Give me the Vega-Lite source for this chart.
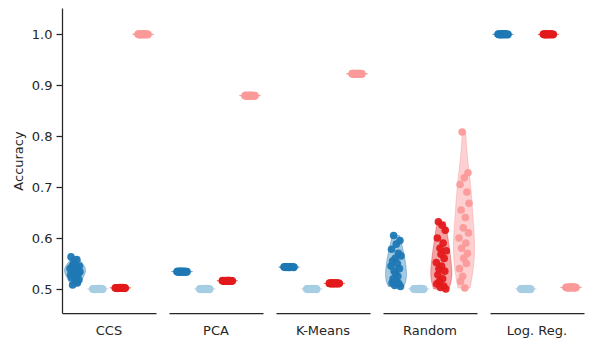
{
  "$schema": "https://vega.github.io/schema/vega-lite/v6.json",
  "padding": {"left": 12, "top": 8, "right": 5, "bottom": 5},
  "datasets": {
    "runs": [
      {"m":"CCS","h":"h1","r":0,"v":0.540},{"m":"CCS","h":"h1","r":1,"v":0.528},{"m":"CCS","h":"h1","r":2,"v":0.563},{"m":"CCS","h":"h1","r":3,"v":0.522},{"m":"CCS","h":"h1","r":4,"v":0.545},{"m":"CCS","h":"h1","r":5,"v":0.508},{"m":"CCS","h":"h1","r":6,"v":0.536},{"m":"CCS","h":"h1","r":7,"v":0.552},{"m":"CCS","h":"h1","r":8,"v":0.532},{"m":"CCS","h":"h1","r":9,"v":0.548},{"m":"CCS","h":"h1","r":10,"v":0.515},{"m":"CCS","h":"h1","r":11,"v":0.538},{"m":"CCS","h":"h1","r":12,"v":0.526},{"m":"CCS","h":"h1","r":13,"v":0.558},{"m":"CCS","h":"h1","r":14,"v":0.512},{"m":"CCS","h":"h1","r":15,"v":0.542},{"m":"CCS","h":"h1","r":16,"v":0.530},{"m":"CCS","h":"h1","r":17,"v":0.518},{"m":"CCS","h":"h1","r":18,"v":0.545},{"m":"CCS","h":"h1","r":19,"v":0.534},
      {"m":"CCS","h":"h2","r":0,"v":0.5000},{"m":"CCS","h":"h2","r":1,"v":0.5006},{"m":"CCS","h":"h2","r":2,"v":0.4996},{"m":"CCS","h":"h2","r":3,"v":0.5003},{"m":"CCS","h":"h2","r":4,"v":0.4993},{"m":"CCS","h":"h2","r":5,"v":0.5001},{"m":"CCS","h":"h2","r":6,"v":0.5005},{"m":"CCS","h":"h2","r":7,"v":0.4998},{"m":"CCS","h":"h2","r":8,"v":0.4995},{"m":"CCS","h":"h2","r":9,"v":0.5007},{"m":"CCS","h":"h2","r":10,"v":0.5002},{"m":"CCS","h":"h2","r":11,"v":0.4994},{"m":"CCS","h":"h2","r":12,"v":0.5004},{"m":"CCS","h":"h2","r":13,"v":0.4999},{"m":"CCS","h":"h2","r":14,"v":0.5007},{"m":"CCS","h":"h2","r":15,"v":0.4997},{"m":"CCS","h":"h2","r":16,"v":0.5000},{"m":"CCS","h":"h2","r":17,"v":0.5003},{"m":"CCS","h":"h2","r":18,"v":0.4993},{"m":"CCS","h":"h2","r":19,"v":0.5001},
      {"m":"CCS","h":"h3","r":0,"v":0.5020},{"m":"CCS","h":"h3","r":1,"v":0.5026},{"m":"CCS","h":"h3","r":2,"v":0.5016},{"m":"CCS","h":"h3","r":3,"v":0.5023},{"m":"CCS","h":"h3","r":4,"v":0.5013},{"m":"CCS","h":"h3","r":5,"v":0.5021},{"m":"CCS","h":"h3","r":6,"v":0.5025},{"m":"CCS","h":"h3","r":7,"v":0.5018},{"m":"CCS","h":"h3","r":8,"v":0.5015},{"m":"CCS","h":"h3","r":9,"v":0.5027},{"m":"CCS","h":"h3","r":10,"v":0.5022},{"m":"CCS","h":"h3","r":11,"v":0.5014},{"m":"CCS","h":"h3","r":12,"v":0.5024},{"m":"CCS","h":"h3","r":13,"v":0.5019},{"m":"CCS","h":"h3","r":14,"v":0.5027},{"m":"CCS","h":"h3","r":15,"v":0.5017},{"m":"CCS","h":"h3","r":16,"v":0.5020},{"m":"CCS","h":"h3","r":17,"v":0.5023},{"m":"CCS","h":"h3","r":18,"v":0.5013},{"m":"CCS","h":"h3","r":19,"v":0.5021},
      {"m":"CCS","h":"h4","r":0,"v":0.9993},{"m":"CCS","h":"h4","r":1,"v":0.9999},{"m":"CCS","h":"h4","r":2,"v":0.9989},{"m":"CCS","h":"h4","r":3,"v":0.9996},{"m":"CCS","h":"h4","r":4,"v":0.9986},{"m":"CCS","h":"h4","r":5,"v":0.9994},{"m":"CCS","h":"h4","r":6,"v":0.9998},{"m":"CCS","h":"h4","r":7,"v":0.9991},{"m":"CCS","h":"h4","r":8,"v":0.9988},{"m":"CCS","h":"h4","r":9,"v":1.0000},{"m":"CCS","h":"h4","r":10,"v":0.9995},{"m":"CCS","h":"h4","r":11,"v":0.9987},{"m":"CCS","h":"h4","r":12,"v":0.9997},{"m":"CCS","h":"h4","r":13,"v":0.9992},{"m":"CCS","h":"h4","r":14,"v":1.0000},{"m":"CCS","h":"h4","r":15,"v":0.9990},{"m":"CCS","h":"h4","r":16,"v":0.9993},{"m":"CCS","h":"h4","r":17,"v":0.9996},{"m":"CCS","h":"h4","r":18,"v":0.9986},{"m":"CCS","h":"h4","r":19,"v":0.9994},
      {"m":"PCA","h":"h1","r":0,"v":0.5340},{"m":"PCA","h":"h1","r":1,"v":0.5346},{"m":"PCA","h":"h1","r":2,"v":0.5336},{"m":"PCA","h":"h1","r":3,"v":0.5343},{"m":"PCA","h":"h1","r":4,"v":0.5333},{"m":"PCA","h":"h1","r":5,"v":0.5341},{"m":"PCA","h":"h1","r":6,"v":0.5345},{"m":"PCA","h":"h1","r":7,"v":0.5338},{"m":"PCA","h":"h1","r":8,"v":0.5335},{"m":"PCA","h":"h1","r":9,"v":0.5347},{"m":"PCA","h":"h1","r":10,"v":0.5342},{"m":"PCA","h":"h1","r":11,"v":0.5334},{"m":"PCA","h":"h1","r":12,"v":0.5344},{"m":"PCA","h":"h1","r":13,"v":0.5339},{"m":"PCA","h":"h1","r":14,"v":0.5347},{"m":"PCA","h":"h1","r":15,"v":0.5337},{"m":"PCA","h":"h1","r":16,"v":0.5340},{"m":"PCA","h":"h1","r":17,"v":0.5343},{"m":"PCA","h":"h1","r":18,"v":0.5333},{"m":"PCA","h":"h1","r":19,"v":0.5341},
      {"m":"PCA","h":"h2","r":0,"v":0.5000},{"m":"PCA","h":"h2","r":1,"v":0.5006},{"m":"PCA","h":"h2","r":2,"v":0.4996},{"m":"PCA","h":"h2","r":3,"v":0.5003},{"m":"PCA","h":"h2","r":4,"v":0.4993},{"m":"PCA","h":"h2","r":5,"v":0.5001},{"m":"PCA","h":"h2","r":6,"v":0.5005},{"m":"PCA","h":"h2","r":7,"v":0.4998},{"m":"PCA","h":"h2","r":8,"v":0.4995},{"m":"PCA","h":"h2","r":9,"v":0.5007},{"m":"PCA","h":"h2","r":10,"v":0.5002},{"m":"PCA","h":"h2","r":11,"v":0.4994},{"m":"PCA","h":"h2","r":12,"v":0.5004},{"m":"PCA","h":"h2","r":13,"v":0.4999},{"m":"PCA","h":"h2","r":14,"v":0.5007},{"m":"PCA","h":"h2","r":15,"v":0.4997},{"m":"PCA","h":"h2","r":16,"v":0.5000},{"m":"PCA","h":"h2","r":17,"v":0.5003},{"m":"PCA","h":"h2","r":18,"v":0.4993},{"m":"PCA","h":"h2","r":19,"v":0.5001},
      {"m":"PCA","h":"h3","r":0,"v":0.5160},{"m":"PCA","h":"h3","r":1,"v":0.5166},{"m":"PCA","h":"h3","r":2,"v":0.5156},{"m":"PCA","h":"h3","r":3,"v":0.5163},{"m":"PCA","h":"h3","r":4,"v":0.5153},{"m":"PCA","h":"h3","r":5,"v":0.5161},{"m":"PCA","h":"h3","r":6,"v":0.5165},{"m":"PCA","h":"h3","r":7,"v":0.5158},{"m":"PCA","h":"h3","r":8,"v":0.5155},{"m":"PCA","h":"h3","r":9,"v":0.5167},{"m":"PCA","h":"h3","r":10,"v":0.5162},{"m":"PCA","h":"h3","r":11,"v":0.5154},{"m":"PCA","h":"h3","r":12,"v":0.5164},{"m":"PCA","h":"h3","r":13,"v":0.5159},{"m":"PCA","h":"h3","r":14,"v":0.5167},{"m":"PCA","h":"h3","r":15,"v":0.5157},{"m":"PCA","h":"h3","r":16,"v":0.5160},{"m":"PCA","h":"h3","r":17,"v":0.5163},{"m":"PCA","h":"h3","r":18,"v":0.5153},{"m":"PCA","h":"h3","r":19,"v":0.5161},
      {"m":"PCA","h":"h4","r":0,"v":0.8790},{"m":"PCA","h":"h4","r":1,"v":0.8796},{"m":"PCA","h":"h4","r":2,"v":0.8786},{"m":"PCA","h":"h4","r":3,"v":0.8793},{"m":"PCA","h":"h4","r":4,"v":0.8783},{"m":"PCA","h":"h4","r":5,"v":0.8791},{"m":"PCA","h":"h4","r":6,"v":0.8795},{"m":"PCA","h":"h4","r":7,"v":0.8788},{"m":"PCA","h":"h4","r":8,"v":0.8785},{"m":"PCA","h":"h4","r":9,"v":0.8797},{"m":"PCA","h":"h4","r":10,"v":0.8792},{"m":"PCA","h":"h4","r":11,"v":0.8784},{"m":"PCA","h":"h4","r":12,"v":0.8794},{"m":"PCA","h":"h4","r":13,"v":0.8789},{"m":"PCA","h":"h4","r":14,"v":0.8797},{"m":"PCA","h":"h4","r":15,"v":0.8787},{"m":"PCA","h":"h4","r":16,"v":0.8790},{"m":"PCA","h":"h4","r":17,"v":0.8793},{"m":"PCA","h":"h4","r":18,"v":0.8783},{"m":"PCA","h":"h4","r":19,"v":0.8791},
      {"m":"K-Means","h":"h1","r":0,"v":0.5430},{"m":"K-Means","h":"h1","r":1,"v":0.5436},{"m":"K-Means","h":"h1","r":2,"v":0.5426},{"m":"K-Means","h":"h1","r":3,"v":0.5433},{"m":"K-Means","h":"h1","r":4,"v":0.5423},{"m":"K-Means","h":"h1","r":5,"v":0.5431},{"m":"K-Means","h":"h1","r":6,"v":0.5435},{"m":"K-Means","h":"h1","r":7,"v":0.5428},{"m":"K-Means","h":"h1","r":8,"v":0.5425},{"m":"K-Means","h":"h1","r":9,"v":0.5437},{"m":"K-Means","h":"h1","r":10,"v":0.5432},{"m":"K-Means","h":"h1","r":11,"v":0.5424},{"m":"K-Means","h":"h1","r":12,"v":0.5434},{"m":"K-Means","h":"h1","r":13,"v":0.5429},{"m":"K-Means","h":"h1","r":14,"v":0.5437},{"m":"K-Means","h":"h1","r":15,"v":0.5427},{"m":"K-Means","h":"h1","r":16,"v":0.5430},{"m":"K-Means","h":"h1","r":17,"v":0.5433},{"m":"K-Means","h":"h1","r":18,"v":0.5423},{"m":"K-Means","h":"h1","r":19,"v":0.5431},
      {"m":"K-Means","h":"h2","r":0,"v":0.5000},{"m":"K-Means","h":"h2","r":1,"v":0.5006},{"m":"K-Means","h":"h2","r":2,"v":0.4996},{"m":"K-Means","h":"h2","r":3,"v":0.5003},{"m":"K-Means","h":"h2","r":4,"v":0.4993},{"m":"K-Means","h":"h2","r":5,"v":0.5001},{"m":"K-Means","h":"h2","r":6,"v":0.5005},{"m":"K-Means","h":"h2","r":7,"v":0.4998},{"m":"K-Means","h":"h2","r":8,"v":0.4995},{"m":"K-Means","h":"h2","r":9,"v":0.5007},{"m":"K-Means","h":"h2","r":10,"v":0.5002},{"m":"K-Means","h":"h2","r":11,"v":0.4994},{"m":"K-Means","h":"h2","r":12,"v":0.5004},{"m":"K-Means","h":"h2","r":13,"v":0.4999},{"m":"K-Means","h":"h2","r":14,"v":0.5007},{"m":"K-Means","h":"h2","r":15,"v":0.4997},{"m":"K-Means","h":"h2","r":16,"v":0.5000},{"m":"K-Means","h":"h2","r":17,"v":0.5003},{"m":"K-Means","h":"h2","r":18,"v":0.4993},{"m":"K-Means","h":"h2","r":19,"v":0.5001},
      {"m":"K-Means","h":"h3","r":0,"v":0.5110},{"m":"K-Means","h":"h3","r":1,"v":0.5116},{"m":"K-Means","h":"h3","r":2,"v":0.5106},{"m":"K-Means","h":"h3","r":3,"v":0.5113},{"m":"K-Means","h":"h3","r":4,"v":0.5103},{"m":"K-Means","h":"h3","r":5,"v":0.5111},{"m":"K-Means","h":"h3","r":6,"v":0.5115},{"m":"K-Means","h":"h3","r":7,"v":0.5108},{"m":"K-Means","h":"h3","r":8,"v":0.5105},{"m":"K-Means","h":"h3","r":9,"v":0.5117},{"m":"K-Means","h":"h3","r":10,"v":0.5112},{"m":"K-Means","h":"h3","r":11,"v":0.5104},{"m":"K-Means","h":"h3","r":12,"v":0.5114},{"m":"K-Means","h":"h3","r":13,"v":0.5109},{"m":"K-Means","h":"h3","r":14,"v":0.5117},{"m":"K-Means","h":"h3","r":15,"v":0.5107},{"m":"K-Means","h":"h3","r":16,"v":0.5110},{"m":"K-Means","h":"h3","r":17,"v":0.5113},{"m":"K-Means","h":"h3","r":18,"v":0.5103},{"m":"K-Means","h":"h3","r":19,"v":0.5111},
      {"m":"K-Means","h":"h4","r":0,"v":0.9220},{"m":"K-Means","h":"h4","r":1,"v":0.9226},{"m":"K-Means","h":"h4","r":2,"v":0.9216},{"m":"K-Means","h":"h4","r":3,"v":0.9223},{"m":"K-Means","h":"h4","r":4,"v":0.9213},{"m":"K-Means","h":"h4","r":5,"v":0.9221},{"m":"K-Means","h":"h4","r":6,"v":0.9225},{"m":"K-Means","h":"h4","r":7,"v":0.9218},{"m":"K-Means","h":"h4","r":8,"v":0.9215},{"m":"K-Means","h":"h4","r":9,"v":0.9227},{"m":"K-Means","h":"h4","r":10,"v":0.9222},{"m":"K-Means","h":"h4","r":11,"v":0.9214},{"m":"K-Means","h":"h4","r":12,"v":0.9224},{"m":"K-Means","h":"h4","r":13,"v":0.9219},{"m":"K-Means","h":"h4","r":14,"v":0.9227},{"m":"K-Means","h":"h4","r":15,"v":0.9217},{"m":"K-Means","h":"h4","r":16,"v":0.9220},{"m":"K-Means","h":"h4","r":17,"v":0.9223},{"m":"K-Means","h":"h4","r":18,"v":0.9213},{"m":"K-Means","h":"h4","r":19,"v":0.9221},
      {"m":"Random","h":"h1","r":0,"v":0.545},{"m":"Random","h":"h1","r":1,"v":0.578},{"m":"Random","h":"h1","r":2,"v":0.512},{"m":"Random","h":"h1","r":3,"v":0.555},{"m":"Random","h":"h1","r":4,"v":0.520},{"m":"Random","h":"h1","r":5,"v":0.605},{"m":"Random","h":"h1","r":6,"v":0.535},{"m":"Random","h":"h1","r":7,"v":0.507},{"m":"Random","h":"h1","r":8,"v":0.560},{"m":"Random","h":"h1","r":9,"v":0.530},{"m":"Random","h":"h1","r":10,"v":0.588},{"m":"Random","h":"h1","r":11,"v":0.516},{"m":"Random","h":"h1","r":12,"v":0.550},{"m":"Random","h":"h1","r":13,"v":0.525},{"m":"Random","h":"h1","r":14,"v":0.570},{"m":"Random","h":"h1","r":15,"v":0.510},{"m":"Random","h":"h1","r":16,"v":0.540},{"m":"Random","h":"h1","r":17,"v":0.595},{"m":"Random","h":"h1","r":18,"v":0.505},{"m":"Random","h":"h1","r":19,"v":0.565},
      {"m":"Random","h":"h2","r":0,"v":0.5000},{"m":"Random","h":"h2","r":1,"v":0.5006},{"m":"Random","h":"h2","r":2,"v":0.4996},{"m":"Random","h":"h2","r":3,"v":0.5003},{"m":"Random","h":"h2","r":4,"v":0.4993},{"m":"Random","h":"h2","r":5,"v":0.5001},{"m":"Random","h":"h2","r":6,"v":0.5005},{"m":"Random","h":"h2","r":7,"v":0.4998},{"m":"Random","h":"h2","r":8,"v":0.4995},{"m":"Random","h":"h2","r":9,"v":0.5007},{"m":"Random","h":"h2","r":10,"v":0.5002},{"m":"Random","h":"h2","r":11,"v":0.4994},{"m":"Random","h":"h2","r":12,"v":0.5004},{"m":"Random","h":"h2","r":13,"v":0.4999},{"m":"Random","h":"h2","r":14,"v":0.5007},{"m":"Random","h":"h2","r":15,"v":0.4997},{"m":"Random","h":"h2","r":16,"v":0.5000},{"m":"Random","h":"h2","r":17,"v":0.5003},{"m":"Random","h":"h2","r":18,"v":0.4993},{"m":"Random","h":"h2","r":19,"v":0.5001},
      {"m":"Random","h":"h3","r":0,"v":0.552},{"m":"Random","h":"h3","r":1,"v":0.510},{"m":"Random","h":"h3","r":2,"v":0.600},{"m":"Random","h":"h3","r":3,"v":0.528},{"m":"Random","h":"h3","r":4,"v":0.632},{"m":"Random","h":"h3","r":5,"v":0.540},{"m":"Random","h":"h3","r":6,"v":0.515},{"m":"Random","h":"h3","r":7,"v":0.580},{"m":"Random","h":"h3","r":8,"v":0.503},{"m":"Random","h":"h3","r":9,"v":0.568},{"m":"Random","h":"h3","r":10,"v":0.545},{"m":"Random","h":"h3","r":11,"v":0.625},{"m":"Random","h":"h3","r":12,"v":0.520},{"m":"Random","h":"h3","r":13,"v":0.590},{"m":"Random","h":"h3","r":14,"v":0.506},{"m":"Random","h":"h3","r":15,"v":0.560},{"m":"Random","h":"h3","r":16,"v":0.535},{"m":"Random","h":"h3","r":17,"v":0.615},{"m":"Random","h":"h3","r":18,"v":0.500},{"m":"Random","h":"h3","r":19,"v":0.575},
      {"m":"Random","h":"h4","r":0,"v":0.600},{"m":"Random","h":"h4","r":1,"v":0.540},{"m":"Random","h":"h4","r":2,"v":0.705},{"m":"Random","h":"h4","r":3,"v":0.515},{"m":"Random","h":"h4","r":4,"v":0.655},{"m":"Random","h":"h4","r":5,"v":0.580},{"m":"Random","h":"h4","r":6,"v":0.808},{"m":"Random","h":"h4","r":7,"v":0.525},{"m":"Random","h":"h4","r":8,"v":0.620},{"m":"Random","h":"h4","r":9,"v":0.560},{"m":"Random","h":"h4","r":10,"v":0.718},{"m":"Random","h":"h4","r":11,"v":0.502},{"m":"Random","h":"h4","r":12,"v":0.640},{"m":"Random","h":"h4","r":13,"v":0.590},{"m":"Random","h":"h4","r":14,"v":0.550},{"m":"Random","h":"h4","r":15,"v":0.690},{"m":"Random","h":"h4","r":16,"v":0.570},{"m":"Random","h":"h4","r":17,"v":0.728},{"m":"Random","h":"h4","r":18,"v":0.610},{"m":"Random","h":"h4","r":19,"v":0.668},
      {"m":"Log. Reg.","h":"h1","r":0,"v":0.9993},{"m":"Log. Reg.","h":"h1","r":1,"v":0.9999},{"m":"Log. Reg.","h":"h1","r":2,"v":0.9989},{"m":"Log. Reg.","h":"h1","r":3,"v":0.9996},{"m":"Log. Reg.","h":"h1","r":4,"v":0.9986},{"m":"Log. Reg.","h":"h1","r":5,"v":0.9994},{"m":"Log. Reg.","h":"h1","r":6,"v":0.9998},{"m":"Log. Reg.","h":"h1","r":7,"v":0.9991},{"m":"Log. Reg.","h":"h1","r":8,"v":0.9988},{"m":"Log. Reg.","h":"h1","r":9,"v":1.0000},{"m":"Log. Reg.","h":"h1","r":10,"v":0.9995},{"m":"Log. Reg.","h":"h1","r":11,"v":0.9987},{"m":"Log. Reg.","h":"h1","r":12,"v":0.9997},{"m":"Log. Reg.","h":"h1","r":13,"v":0.9992},{"m":"Log. Reg.","h":"h1","r":14,"v":1.0000},{"m":"Log. Reg.","h":"h1","r":15,"v":0.9990},{"m":"Log. Reg.","h":"h1","r":16,"v":0.9993},{"m":"Log. Reg.","h":"h1","r":17,"v":0.9996},{"m":"Log. Reg.","h":"h1","r":18,"v":0.9986},{"m":"Log. Reg.","h":"h1","r":19,"v":0.9994},
      {"m":"Log. Reg.","h":"h2","r":0,"v":0.5000},{"m":"Log. Reg.","h":"h2","r":1,"v":0.5006},{"m":"Log. Reg.","h":"h2","r":2,"v":0.4996},{"m":"Log. Reg.","h":"h2","r":3,"v":0.5003},{"m":"Log. Reg.","h":"h2","r":4,"v":0.4993},{"m":"Log. Reg.","h":"h2","r":5,"v":0.5001},{"m":"Log. Reg.","h":"h2","r":6,"v":0.5005},{"m":"Log. Reg.","h":"h2","r":7,"v":0.4998},{"m":"Log. Reg.","h":"h2","r":8,"v":0.4995},{"m":"Log. Reg.","h":"h2","r":9,"v":0.5007},{"m":"Log. Reg.","h":"h2","r":10,"v":0.5002},{"m":"Log. Reg.","h":"h2","r":11,"v":0.4994},{"m":"Log. Reg.","h":"h2","r":12,"v":0.5004},{"m":"Log. Reg.","h":"h2","r":13,"v":0.4999},{"m":"Log. Reg.","h":"h2","r":14,"v":0.5007},{"m":"Log. Reg.","h":"h2","r":15,"v":0.4997},{"m":"Log. Reg.","h":"h2","r":16,"v":0.5000},{"m":"Log. Reg.","h":"h2","r":17,"v":0.5003},{"m":"Log. Reg.","h":"h2","r":18,"v":0.4993},{"m":"Log. Reg.","h":"h2","r":19,"v":0.5001},
      {"m":"Log. Reg.","h":"h3","r":0,"v":0.9993},{"m":"Log. Reg.","h":"h3","r":1,"v":0.9999},{"m":"Log. Reg.","h":"h3","r":2,"v":0.9989},{"m":"Log. Reg.","h":"h3","r":3,"v":0.9996},{"m":"Log. Reg.","h":"h3","r":4,"v":0.9986},{"m":"Log. Reg.","h":"h3","r":5,"v":0.9994},{"m":"Log. Reg.","h":"h3","r":6,"v":0.9998},{"m":"Log. Reg.","h":"h3","r":7,"v":0.9991},{"m":"Log. Reg.","h":"h3","r":8,"v":0.9988},{"m":"Log. Reg.","h":"h3","r":9,"v":1.0000},{"m":"Log. Reg.","h":"h3","r":10,"v":0.9995},{"m":"Log. Reg.","h":"h3","r":11,"v":0.9987},{"m":"Log. Reg.","h":"h3","r":12,"v":0.9997},{"m":"Log. Reg.","h":"h3","r":13,"v":0.9992},{"m":"Log. Reg.","h":"h3","r":14,"v":1.0000},{"m":"Log. Reg.","h":"h3","r":15,"v":0.9990},{"m":"Log. Reg.","h":"h3","r":16,"v":0.9993},{"m":"Log. Reg.","h":"h3","r":17,"v":0.9996},{"m":"Log. Reg.","h":"h3","r":18,"v":0.9986},{"m":"Log. Reg.","h":"h3","r":19,"v":0.9994},
      {"m":"Log. Reg.","h":"h4","r":0,"v":0.5030},{"m":"Log. Reg.","h":"h4","r":1,"v":0.5036},{"m":"Log. Reg.","h":"h4","r":2,"v":0.5026},{"m":"Log. Reg.","h":"h4","r":3,"v":0.5033},{"m":"Log. Reg.","h":"h4","r":4,"v":0.5023},{"m":"Log. Reg.","h":"h4","r":5,"v":0.5031},{"m":"Log. Reg.","h":"h4","r":6,"v":0.5035},{"m":"Log. Reg.","h":"h4","r":7,"v":0.5028},{"m":"Log. Reg.","h":"h4","r":8,"v":0.5025},{"m":"Log. Reg.","h":"h4","r":9,"v":0.5037},{"m":"Log. Reg.","h":"h4","r":10,"v":0.5032},{"m":"Log. Reg.","h":"h4","r":11,"v":0.5024},{"m":"Log. Reg.","h":"h4","r":12,"v":0.5034},{"m":"Log. Reg.","h":"h4","r":13,"v":0.5029},{"m":"Log. Reg.","h":"h4","r":14,"v":0.5037},{"m":"Log. Reg.","h":"h4","r":15,"v":0.5027},{"m":"Log. Reg.","h":"h4","r":16,"v":0.5030},{"m":"Log. Reg.","h":"h4","r":17,"v":0.5033},{"m":"Log. Reg.","h":"h4","r":18,"v":0.5023},{"m":"Log. Reg.","h":"h4","r":19,"v":0.5031}
    ]
  },
  "data": {"name": "runs"},
  "facet": {
    "column": {
      "field": "m", "type": "nominal",
      "sort": ["CCS", "PCA", "K-Means", "Random", "Log. Reg."],
      "header": {"title": null, "labelOrient": "bottom", "labelFontSize": 13, "labelColor": "#262626", "labelFont": "DejaVu Sans", "labelPadding": 12}
    }
  },
  "spacing": 13,
  "resolve": {"scale": {"x": "independent"}},
  "spec": {
    "width": 94,
    "height": 305,
    "resolve": {"scale": {"x": "independent"}},
    "layer": [
      {
        "transform": [
          {"filter": "datum.h === 'h1'"},
          {"density": "v", "groupby": ["m", "h"], "as": ["val", "dens"]},
          {"stack": "dens", "groupby": ["m", "h", "val"], "offset": "center", "as": ["d0", "d1"]}
        ],
        "mark": {"type": "area", "orient": "horizontal", "fill": "#1f78b4", "fillOpacity": 0.4, "stroke": "#1f78b4", "strokeOpacity": 0.4, "strokeWidth": 1},
        "encoding": {
          "y": {"field": "val", "type": "quantitative", "title": "Accuracy", "scale": {"domain": [0.453, 1.051], "nice": false, "zero": false}, "axis": {"values": [0.5, 0.6, 0.7, 0.8, 0.9, 1.0], "format": ".1f", "grid": false}},
          "x": {"field": "d0", "type": "quantitative", "scale": {"range": [2.5, 23.5], "nice": false, "zero": false}, "axis": null},
          "x2": {"field": "d1"}
        }
      },
      {
        "transform": [
          {"filter": "datum.h === 'h2'"},
          {"density": "v", "groupby": ["m", "h"], "as": ["val", "dens"]},
          {"stack": "dens", "groupby": ["m", "h", "val"], "offset": "center", "as": ["d0", "d1"]}
        ],
        "mark": {"type": "area", "orient": "horizontal", "fill": "#a6cee3", "fillOpacity": 0.4, "stroke": "#a6cee3", "strokeOpacity": 0.4, "strokeWidth": 1},
        "encoding": {
          "y": {"field": "val", "type": "quantitative", "title": "Accuracy", "scale": {"domain": [0.453, 1.051], "nice": false, "zero": false}, "axis": {"values": [0.5, 0.6, 0.7, 0.8, 0.9, 1.0], "format": ".1f", "grid": false}},
          "x": {"field": "d0", "type": "quantitative", "scale": {"range": [25.2, 46.2], "nice": false, "zero": false}, "axis": null},
          "x2": {"field": "d1"}
        }
      },
      {
        "transform": [
          {"filter": "datum.h === 'h3'"},
          {"density": "v", "groupby": ["m", "h"], "as": ["val", "dens"]},
          {"stack": "dens", "groupby": ["m", "h", "val"], "offset": "center", "as": ["d0", "d1"]}
        ],
        "mark": {"type": "area", "orient": "horizontal", "fill": "#e31a1c", "fillOpacity": 0.4, "stroke": "#e31a1c", "strokeOpacity": 0.4, "strokeWidth": 1},
        "encoding": {
          "y": {"field": "val", "type": "quantitative", "title": "Accuracy", "scale": {"domain": [0.453, 1.051], "nice": false, "zero": false}, "axis": {"values": [0.5, 0.6, 0.7, 0.8, 0.9, 1.0], "format": ".1f", "grid": false}},
          "x": {"field": "d0", "type": "quantitative", "scale": {"range": [47.8, 68.8], "nice": false, "zero": false}, "axis": null},
          "x2": {"field": "d1"}
        }
      },
      {
        "transform": [
          {"filter": "datum.h === 'h4'"},
          {"density": "v", "groupby": ["m", "h"], "as": ["val", "dens"]},
          {"stack": "dens", "groupby": ["m", "h", "val"], "offset": "center", "as": ["d0", "d1"]}
        ],
        "mark": {"type": "area", "orient": "horizontal", "fill": "#fb9a99", "fillOpacity": 0.45, "stroke": "#fb9a99", "strokeOpacity": 0.5, "strokeWidth": 1},
        "encoding": {
          "y": {"field": "val", "type": "quantitative", "title": "Accuracy", "scale": {"domain": [0.453, 1.051], "nice": false, "zero": false}, "axis": {"values": [0.5, 0.6, 0.7, 0.8, 0.9, 1.0], "format": ".1f", "grid": false}},
          "x": {"field": "d0", "type": "quantitative", "scale": {"range": [70.5, 91.5], "nice": false, "zero": false}, "axis": null},
          "x2": {"field": "d1"}
        }
      },
      {
        "transform": [{"filter": "datum.h === 'h1'"}],
        "mark": {"type": "circle", "size": 58, "opacity": 0.95, "color": "#1f78b4"},
        "encoding": {
          "y": {"field": "v", "type": "quantitative", "title": "Accuracy", "scale": {"domain": [0.453, 1.051], "nice": false, "zero": false}, "axis": {"values": [0.5, 0.6, 0.7, 0.8, 0.9, 1.0], "format": ".1f", "grid": false}},
          "x": {"field": "r", "type": "quantitative", "scale": {"domain": [-15.2, 163.4], "nice": false, "zero": false}, "axis": {"title": null, "labels": false, "ticks": false, "grid": false, "domain": true}}
        }
      },
      {
        "transform": [{"filter": "datum.h === 'h2'"}],
        "mark": {"type": "circle", "size": 58, "opacity": 0.95, "color": "#a6cee3"},
        "encoding": {
          "y": {"field": "v", "type": "quantitative", "title": "Accuracy", "scale": {"domain": [0.453, 1.051], "nice": false, "zero": false}, "axis": {"values": [0.5, 0.6, 0.7, 0.8, 0.9, 1.0], "format": ".1f", "grid": false}},
          "x": {"field": "r", "type": "quantitative", "scale": {"domain": [-58.33, 120.27], "nice": false, "zero": false}, "axis": null}
        }
      },
      {
        "transform": [{"filter": "datum.h === 'h3'"}],
        "mark": {"type": "circle", "size": 58, "opacity": 0.95, "color": "#e31a1c"},
        "encoding": {
          "y": {"field": "v", "type": "quantitative", "title": "Accuracy", "scale": {"domain": [0.453, 1.051], "nice": false, "zero": false}, "axis": {"values": [0.5, 0.6, 0.7, 0.8, 0.9, 1.0], "format": ".1f", "grid": false}},
          "x": {"field": "r", "type": "quantitative", "scale": {"domain": [-101.27, 77.33], "nice": false, "zero": false}, "axis": null}
        }
      },
      {
        "transform": [{"filter": "datum.h === 'h4'"}],
        "mark": {"type": "circle", "size": 58, "opacity": 0.95, "color": "#fb9a99"},
        "encoding": {
          "y": {"field": "v", "type": "quantitative", "title": "Accuracy", "scale": {"domain": [0.453, 1.051], "nice": false, "zero": false}, "axis": {"values": [0.5, 0.6, 0.7, 0.8, 0.9, 1.0], "format": ".1f", "grid": false}},
          "x": {"field": "r", "type": "quantitative", "scale": {"domain": [-144.4, 34.2], "nice": false, "zero": false}, "axis": null}
        }
      }
    ]
  },
  "config": {
    "font": "DejaVu Sans",
    "view": {"stroke": null},
    "axis": {
      "domainColor": "#262626", "domainWidth": 1.25, "tickColor": "#262626", "tickWidth": 1.25, "tickSize": 6,
      "labelColor": "#262626", "labelFontSize": 13, "labelFont": "DejaVu Sans", "labelPadding": 4,
      "titleColor": "#262626", "titleFontSize": 13, "titleFont": "DejaVu Sans", "titleFontWeight": "normal", "titlePadding": 6
    }
  }
}
